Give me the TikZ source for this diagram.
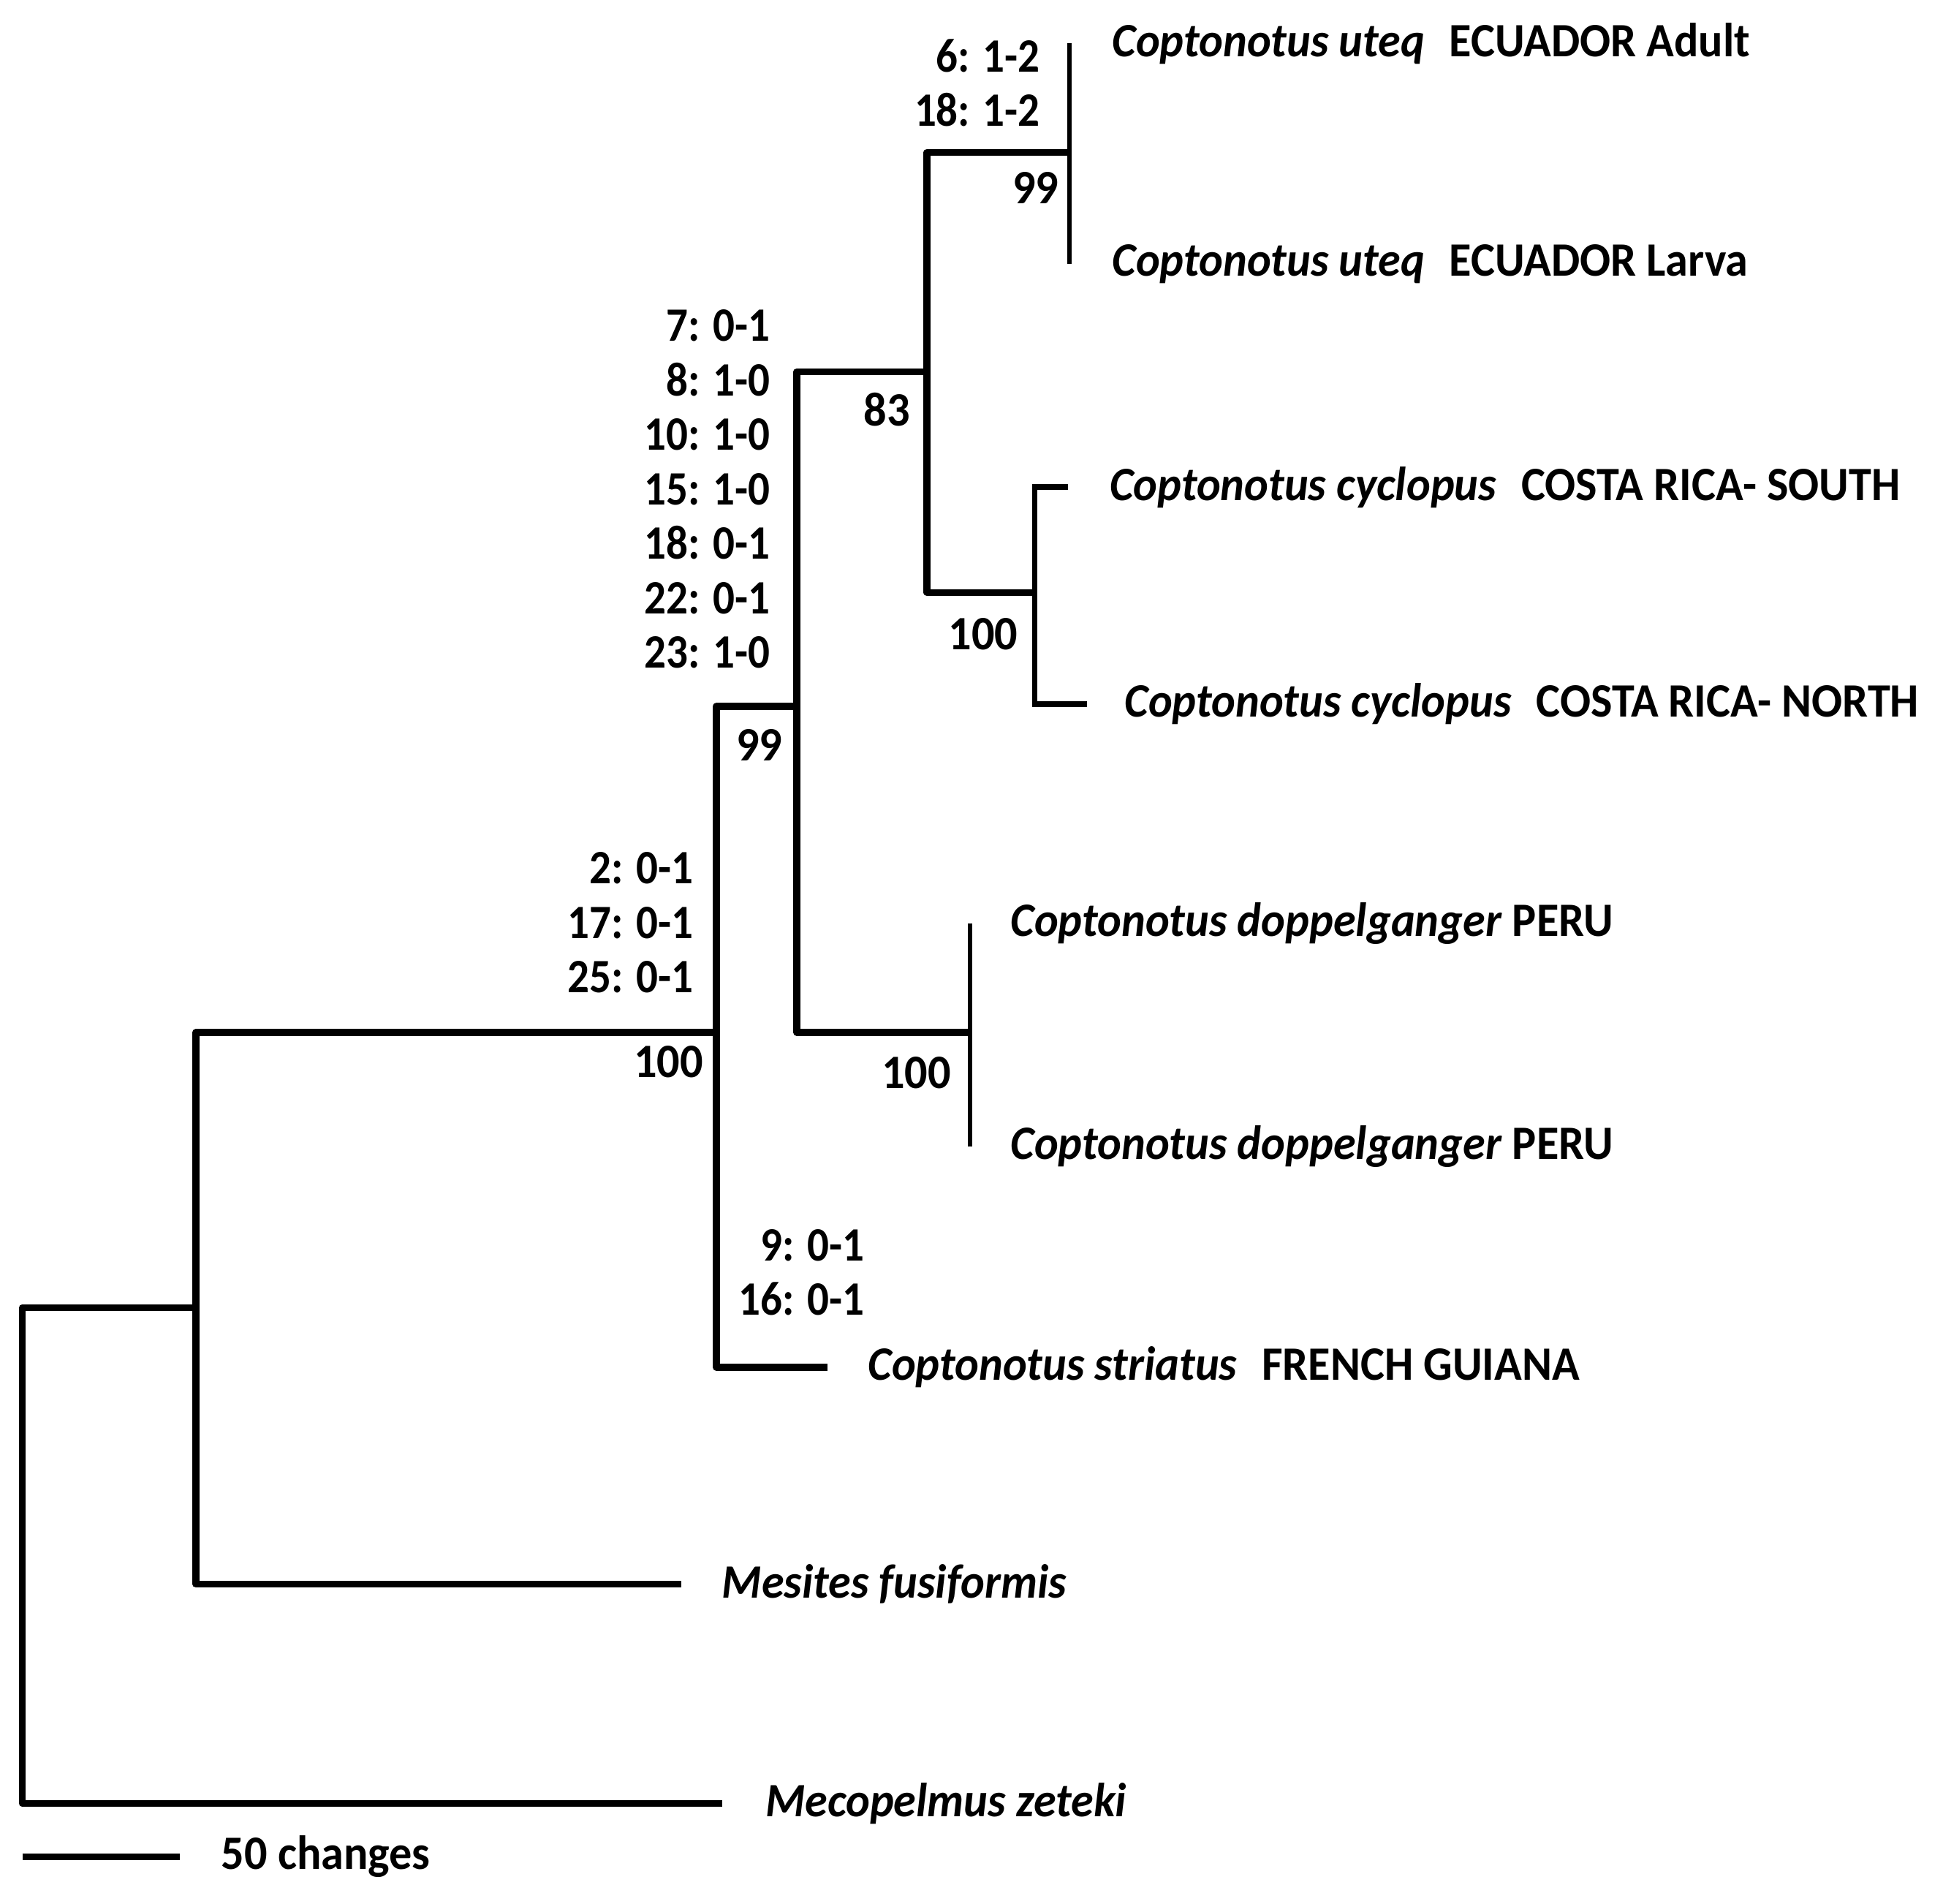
\documentclass[tikz,border=0pt]{standalone}
\usepackage{fontspec}
\setmainfont{Carlito}[FakeStretch=0.95]
\newfontfamily\charfont{Carlito}[FakeStretch=0.9]
\usepackage{tikz}
\usetikzlibrary{positioning,calc}
\definecolor{treeInk}{RGB}{0, 0, 0}

\tikzset{
  branch/.style={draw=treeInk, line width=1.6pt, line join=round},
  twig/.style={draw=treeInk, line width=1.0pt},
  taxon/.style={inner sep=0pt, anchor=west, font=\fontsize{11pt}{12.5pt}\selectfont\bfseries},
  supp/.style={inner sep=0pt, font=\fontsize{11pt}{12.5pt}\selectfont\bfseries},
  chars/.style={inner sep=0pt, align=right, font=\charfont\fontsize{11pt}{12.5pt}\selectfont\bfseries}
}

\begin{document}
\begin{tikzpicture}
  \useasboundingbox (0,0) rectangle (15.68,-15.36);
  % internal nodes
  \coordinate (root) at (0.18,-12.55);
  \coordinate (nA) at (1.58,-10.55);
  \coordinate (nB) at (5.78,-8.33);
  \coordinate (nC) at (6.43,-5.70);
  \coordinate (nD) at (7.83,-8.33);
  \coordinate (nE) at (7.48,-3.00);
  \coordinate (nF) at (8.63,-1.23);
  \coordinate (nG) at (8.35,-4.78);
  % tips
  \coordinate (tMeco) at (5.83,-14.55);
  \coordinate (tMes) at (5.50,-12.78);
  \coordinate (tStr) at (6.68,-11.03);
  \coordinate (tD1) at (7.83,-7.45);
  \coordinate (tD2) at (7.83,-9.25);
  \coordinate (tU1) at (8.63,-0.35);
  \coordinate (tU2) at (8.63,-2.13);
  \coordinate (tC1) at (8.62,-3.93);
  \coordinate (tC2) at (8.77,-5.68);
  % scale bar ends
  \coordinate (sbL) at (0.18,-14.98);
  \coordinate (sbR) at (1.45,-14.98);

  % branches
  \draw[branch] (root) |- (nA);
  \draw[branch] (root) |- (tMeco);
  \draw[branch] (nA) |- (nB);
  \draw[branch] (nA) |- (tMes);
  \draw[branch] (nB) |- (nC);
  \draw[branch] (nB) |- (tStr);
  \draw[branch] (nC) |- (nE);
  \draw[branch] (nC) |- (nD);
  \draw[branch] (nE) |- (nF);
  \draw[branch] (nE) |- (nG);
  \draw[twig] (nF) -- (tU1);
  \draw[twig] (nF) -- (tU2);
  \draw[twig] (nD) -- (tD1);
  \draw[twig] (nD) -- (tD2);
  \draw[twig, line width=1.3pt] (nG) |- (tC1);
  \draw[twig, line width=1.3pt] (nG) |- (tC2);
  \draw[branch] (sbL) -- (sbR);

  % taxa
  \node[taxon, right=0.34cm of tU1] (lU1) {\textit{Coptonotus uteq}\hspace{0.3em} ECUADOR Adult};
  \node[taxon, right=0.34cm of tU2] (lU2) {\textit{Coptonotus uteq}\hspace{0.3em} ECUADOR Larva};
  \node[taxon, right=0.33cm of tC1] (lC1) {\textit{Coptonotus cyclopus}\hspace{0.3em} COSTA RICA- SOUTH};
  \node[taxon, right=0.30cm of tC2] (lC2) {\textit{Coptonotus cyclopus}\hspace{0.3em} COSTA RICA- NORTH};
  \node[taxon, right=0.32cm of tD1] (lD1) {\textit{Coptonotus doppelganger} PERU};
  \node[taxon, right=0.32cm of tD2] (lD2) {\textit{Coptonotus doppelganger} PERU};
  \node[taxon, right=0.32cm of tStr] (lStr) {\textit{Coptonotus striatus}\hspace{0.3em} FRENCH GUIANA};
  \node[taxon, right=0.32cm of tMes] (lMes) {\textit{Mesites fusiformis}};
  \node[taxon, right=0.34cm of tMeco] (lMeco) {\textit{Mecopelmus zeteki}};
  \node[taxon, right=0.33cm of sbR] (lScale) {50 changes};

  % bootstrap values
  \node[supp, below left=0.15cm and 0.08cm of nF] (bF) {99};
  \node[supp, below left=0.16cm and 0.13cm of nE] (bE) {83};
  \node[supp, below left=0.20cm and 0.13cm of nG] (bG) {100};
  \node[supp, below left=0.18cm and 0.11cm of nC] (bC) {99};
  \node[supp, below left=0.10cm and 0.10cm of nB] (bB) {100};
  \node[supp, below left=0.19cm and 0.15cm of nD] (bD) {100};

  % character changes
  \node[chars, above left=0.20cm and 0.23cm of nF] (cF) {6: 1-2\\18: 1-2};
  \node[chars, above left=0.30cm and 0.21cm of nC] (cC) {7: 0-1\\8: 1-0\\10: 1-0\\15: 1-0\\18: 0-1\\22: 0-1\\23: 1-0};
  \node[chars, above left=0.31cm and 0.18cm of nB] (cB) {2: 0-1\\17: 0-1\\25: 0-1};
  \node[chars, anchor=south east] (cStr) at ($(tStr)+(0.30,0.41)$) {9: 0-1\\16: 0-1};
\end{tikzpicture}
\end{document}
